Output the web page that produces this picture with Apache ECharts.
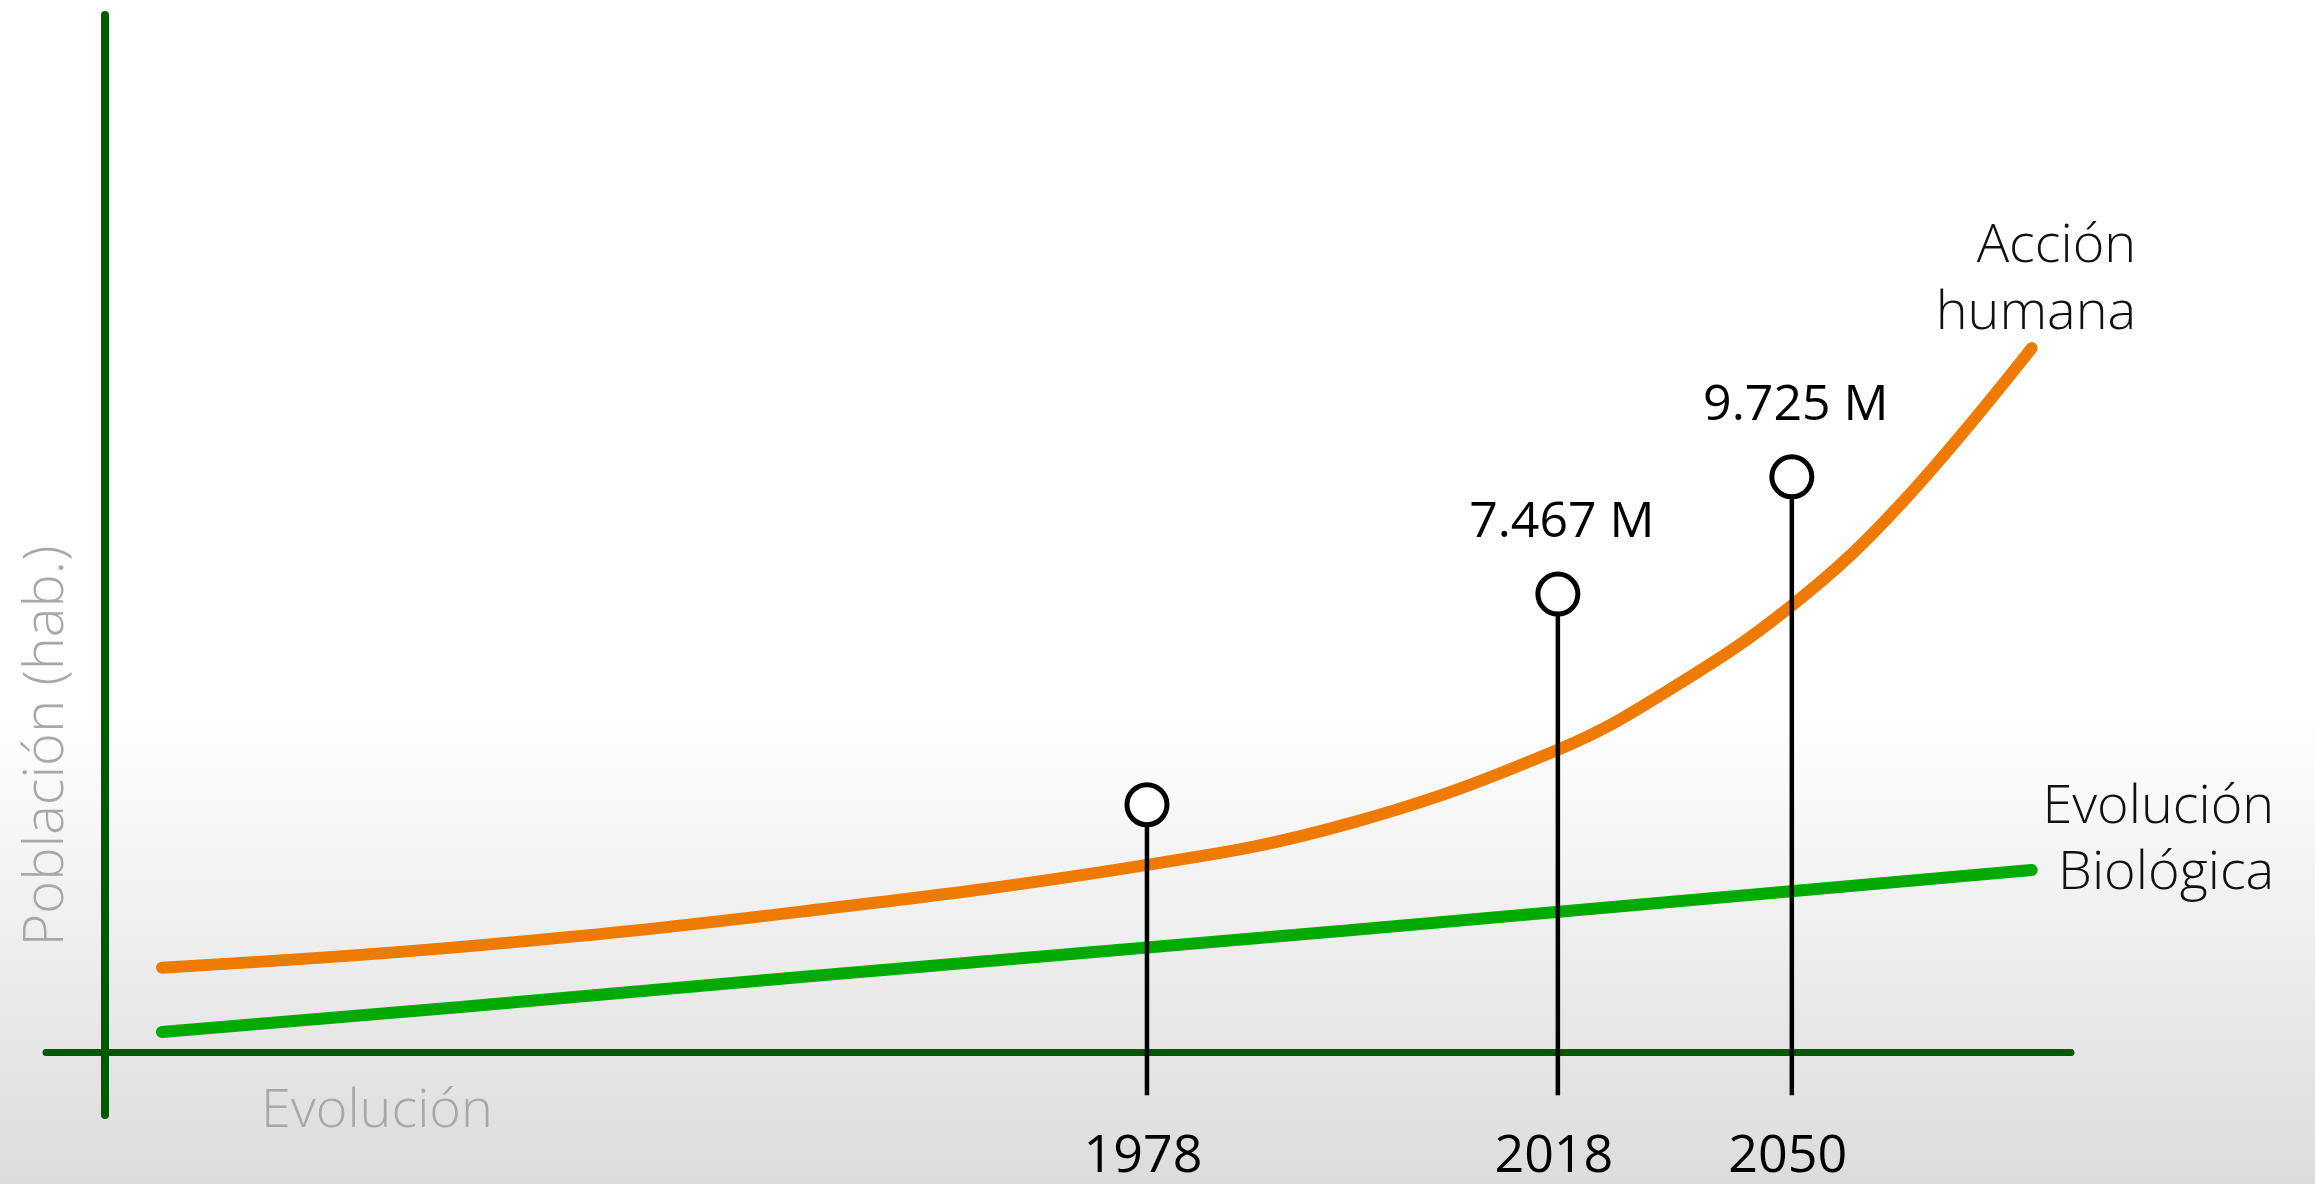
<!DOCTYPE html>
<html>
<head>
<meta charset="utf-8">
<script src="https://cdn.jsdelivr.net/npm/echarts@6/dist/echarts.min.js"></script>
<style>
html, body { margin: 0; padding: 0; }
#chart { width: 2315px; height: 1184px; }
</style>
</head>
<body>
<div id="chart"></div>
<script>
// schematic units: x = "evolución" position, y = población
var humanX = [2.9, 18.1, 35.4, 53.0, 63.3, 73.9, 79.5, 85.8, 91.3, 98.0];
var humanPop = [8.2, 10.2, 13.6, 18.1, 22.1, 29.2, 34.9, 43.1, 52.8, 67.9];
var bioX = [2.9, 18.1, 35.4, 63.3, 98.0];
var bioPop = [2.0, 4.4, 7.3, 11.8, 17.6];

var stemPos = [53.0, 73.9, 85.8];
var stemYears = ['1978', '2018', '2050'];
var stemTop = [23.9, 44.2, 55.5];
var stemLabels = ['', '7.467 M', '9.725 M'];
var stemBase = -4.1;

var axisGreen = '#005800';
var font = 'Open Sans';

function pairs(xs, ys) {
    return xs.map(function (x, i) { return [x, ys[i]]; });
}

var stemData = stemPos.map(function (x, i) {
    return [x, stemBase, stemTop[i], i];
});

var myChart = echarts.init(document.getElementById('chart'));
myChart.setOption({
    animation: false,
    backgroundColor: new echarts.graphic.LinearGradient(0, 0, 0, 1, [
        { offset: 0, color: '#ffffff' },
        { offset: 0.6, color: '#ffffff' },
        { offset: 1, color: '#dcdcdc' }
    ]),
    grid: {
        left: 46, right: 244, top: 15, bottom: 69,
        containLabel: false,
        outerBoundsMode: 'none'
    },
    xAxis: {
        type: 'value',
        min: -3,
        max: 100,
        axisLine: { show: true, onZero: true, lineStyle: { color: axisGreen, width: 7, cap: 'round' } },
        axisTick: { show: false },
        splitLine: { show: false },
        axisLabel: { show: false }
    },
    yAxis: {
        type: 'value',
        min: -6,
        max: 100,
        axisLine: { show: true, onZero: true, lineStyle: { color: axisGreen, width: 8, cap: 'round' } },
        axisTick: { show: false },
        axisLabel: { show: false },
        splitLine: { show: false }
    },
    graphic: [
        {
            type: 'text',
            x: 47, y: 746,
            rotation: Math.PI / 2,
            style: {
                text: 'Población (hab.)',
                fontSize: 56, fontWeight: 300, fontFamily: font,
                fill: '#a8a8a8', align: 'center', verticalAlign: 'middle'
            }
        },
        {
            type: 'text',
            x: 377, y: 1112,
            style: {
                text: 'Evolución',
                fontSize: 54, fontWeight: 300, fontFamily: font,
                fill: '#a8a8a8', align: 'center', verticalAlign: 'middle'
            }
        }
    ],
    series: [
        {
            name: 'Evolución Biológica',
            type: 'line',
            data: pairs(bioX, bioPop),
            symbol: 'none',
            lineStyle: { color: '#00aa00', width: 12, cap: 'round' },
            z: 3,
            markPoint: {
                symbol: 'rect',
                symbolSize: 1,
                itemStyle: { color: 'rgba(0,0,0,0)' },
                data: [{ coord: [bioX[bioX.length - 1], bioPop[bioPop.length - 1]] }],
                label: {
                    show: true,
                    formatter: 'Evolución\nBiológica',
                    position: [243, -29],
                    align: 'right',
                    verticalAlign: 'middle',
                    fontSize: 54, fontWeight: 300, fontFamily: font,
                    lineHeight: 66,
                    color: '#111'
                }
            }
        },
        {
            name: 'Acción humana',
            type: 'line',
            data: pairs(humanX, humanPop),
            smooth: 0.4,
            symbol: 'none',
            lineStyle: { color: '#ee7a00', width: 12, cap: 'round' },
            z: 3,
            markPoint: {
                symbol: 'rect',
                symbolSize: 1,
                itemStyle: { color: 'rgba(0,0,0,0)' },
                data: [{ coord: [humanX[humanX.length - 1], humanPop[humanPop.length - 1]] }],
                label: {
                    show: true,
                    formatter: 'Acción\nhumana',
                    position: [105, -68],
                    align: 'right',
                    verticalAlign: 'middle',
                    fontSize: 54, fontWeight: 300, fontFamily: font,
                    lineHeight: 67,
                    color: '#111'
                }
            }
        },
        {
            type: 'custom',
            z: 5,
            clip: false,
            data: stemData,
            renderItem: function (params, api) {
                var base = api.coord([api.value(0), api.value(1)]);
                var top = api.coord([api.value(0), api.value(2)]);
                var axisY = api.coord([api.value(0), 0])[1];
                var r = 20;
                var i = api.value(3);
                return {
                    type: 'group',
                    children: [
                        {
                            type: 'line',
                            shape: { x1: base[0], y1: base[1], x2: top[0], y2: top[1] + r },
                            style: { stroke: '#000', lineWidth: 4.5 }
                        },
                        {
                            type: 'circle',
                            shape: { cx: top[0], cy: top[1], r: r },
                            style: { fill: '#fff', stroke: '#000', lineWidth: 5 }
                        },
                        {
                            type: 'text',
                            x: top[0] + 4,
                            y: top[1] - 71,
                            style: {
                                text: stemLabels[i],
                                fontSize: 50, fontFamily: font,
                                fill: '#000', align: 'center', verticalAlign: 'middle'
                            }
                        },
                        {
                            type: 'text',
                            x: base[0] - 4,
                            y: axisY + 104,
                            style: {
                                text: stemYears[i],
                                fontSize: 52, fontFamily: font,
                                fill: '#000', align: 'center', verticalAlign: 'middle'
                            }
                        }
                    ]
                };
            }
        }
    ]
});
</script>
</body>
</html>
